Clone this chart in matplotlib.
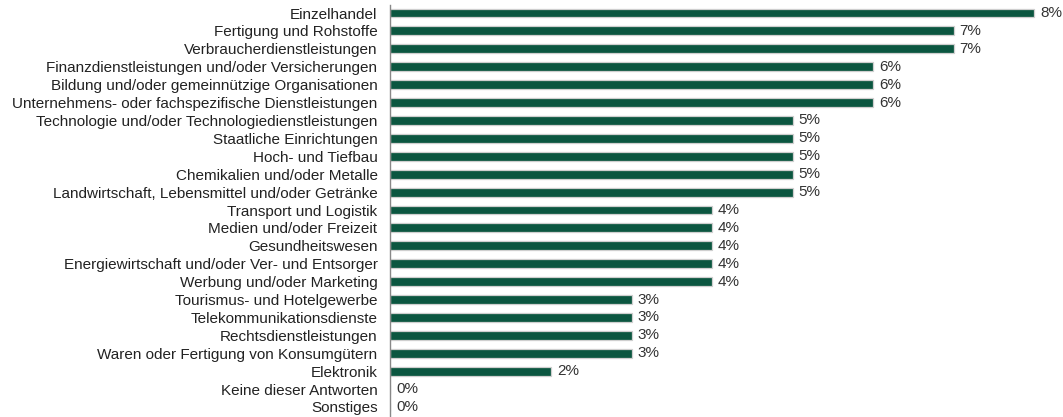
import matplotlib
matplotlib.use("Agg")
import matplotlib.pyplot as plt

categories = [
    "Einzelhandel",
    "Fertigung und Rohstoffe",
    "Verbraucherdienstleistungen",
    "Finanzdienstleistungen und/oder Versicherungen",
    "Bildung und/oder gemeinnützige Organisationen",
    "Unternehmens- oder fachspezifische Dienstleistungen",
    "Technologie und/oder Technologiedienstleistungen",
    "Staatliche Einrichtungen",
    "Hoch- und Tiefbau",
    "Chemikalien und/oder Metalle",
    "Landwirtschaft, Lebensmittel und/oder Getränke",
    "Transport und Logistik",
    "Medien und/oder Freizeit",
    "Gesundheitswesen",
    "Energiewirtschaft und/oder Ver- und Entsorger",
    "Werbung und/oder Marketing",
    "Tourismus- und Hotelgewerbe",
    "Telekommunikationsdienste",
    "Rechtsdienstleistungen",
    "Waren oder Fertigung von Konsumgütern",
    "Elektronik",
    "Keine dieser Antworten",
    "Sonstiges",
]
values = [8, 7, 7, 6, 6, 6, 5, 5, 5, 5, 5, 4, 4, 4, 4, 4, 3, 3, 3, 3, 2, 0, 0]

plt.rcParams["font.family"] = ["Liberation Sans", "DejaVu Sans"]

W, H = 1063, 417
fig = plt.figure(figsize=(W / 100, H / 100), dpi=100)
left = 390 / W
ax = fig.add_axes([left, 0.0, 1.0 - left, 1.0])

pos = list(range(len(categories)))
ax.barh(pos, values, height=0.5, color="#0b5640",
        edgecolor="#cfcfcf", linewidth=0.9)

for p, v in zip(pos, values):
    ax.text(v + 0.075, p, f"{v}%", va="center", ha="left",
            fontsize=11, color="#333333")

ax.set_xlim(0, (W - 390) / 80.5)
ax.set_ylim(22 + 10 / 17.9, -13 / 17.9)
ax.set_yticks(pos)
ax.set_yticklabels(categories, fontsize=11, color="#222222")
ax.tick_params(axis="y", length=0, pad=9)
ax.set_xticks([])

for s in ["top", "right", "bottom"]:
    ax.spines[s].set_visible(False)
ax.spines["left"].set_color("#888888")
ax.spines["left"].set_linewidth(1.0)
ax.spines["left"].set_bounds(22 + 10 / 17.9, -8 / 17.9)

fig.savefig("out.png", dpi=100)
